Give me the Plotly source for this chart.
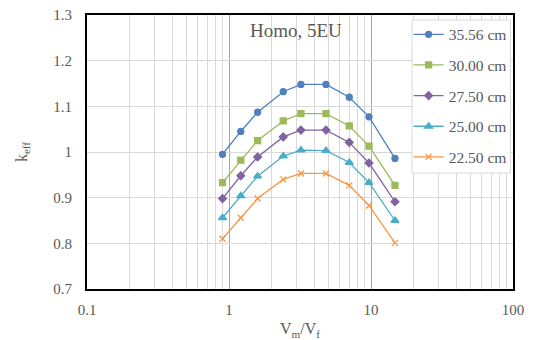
import plotly.graph_objects as go

# Moderator-to-fuel volume ratio (x) and k_eff for each core size
ratio = [0.90, 1.21, 1.59, 2.41, 3.21, 4.82, 7.03, 9.68, 14.75]
k_3556 = [0.995, 1.045, 1.087, 1.132, 1.148, 1.148, 1.120, 1.077, 0.986]
k_3000 = [0.933, 0.982, 1.025, 1.068, 1.084, 1.084, 1.057, 1.013, 0.927]
k_2750 = [0.898, 0.948, 0.989, 1.033, 1.048, 1.048, 1.021, 0.976, 0.891]
k_2500 = [0.856, 0.904, 0.947, 0.991, 1.004, 1.003, 0.977, 0.933, 0.850]
k_2250 = [0.810, 0.856, 0.898, 0.940, 0.953, 0.953, 0.927, 0.883, 0.801]

series = [
    ("35.56 cm", k_3556, "#4F81BD", "circle", 6),
    ("30.00 cm", k_3000, "#9BBB59", "square", 6),
    ("27.50 cm", k_2750, "#8064A2", "diamond", 6),
    ("25.00 cm", k_2500, "#4BACC6", "triangle-up", 7),
    ("22.50 cm", k_2250, "#F79646", "x-thin-open", 6),
]

serif = "Liberation Serif, Times New Roman, serif"

# minor log gridlines at 2..9 of each decade
minor_vals = [m * 10 ** e for e in (-1, 0, 1) for m in range(2, 10)]

fig = go.Figure()
for name, ys, color, sym, size in series:
    fig.add_trace(go.Scatter(
        x=ratio, y=ys, name=name, mode="lines+markers", legendgroup=name,
        line=dict(color=color, width=1.3),
        marker=dict(symbol=sym, size=size, color=color,
                    line=dict(color=color, width=1.3)),
    ))

# legend frame (drawn as a paper-space box so it hugs the entries)
fig.add_shape(type="rect", xref="paper", yref="paper",
              x0=0.763, x1=0.994, y0=0.423, y1=0.982,
              fillcolor="white", line=dict(color="#D9D9D9", width=1),
              layer="above")

fig.add_annotation(text="Homo, 5EU", x=0.49, y=0.945, xref="paper", yref="paper",
                   showarrow=False, xanchor="center", yanchor="middle",
                   font=dict(family=serif, size=19, color="#595959"))

fig.update_layout(
    width=539, height=340,
    margin=dict(l=87, r=26, t=15, b=51),
    paper_bgcolor="white", plot_bgcolor="white",
    font=dict(family=serif, size=15, color="#595959"),
    showlegend=True,
    legend=dict(x=0.755, y=0.99, xanchor="left", yanchor="top",
                bgcolor="rgba(0,0,0,0)", borderwidth=0,
                font=dict(family=serif, size=15.5, color="#595959"),
                tracegroupgap=7.5, itemwidth=30),
    xaxis=dict(type="log", range=[-1, 2], automargin=False,
               tickvals=[0.1, 1, 10, 100], ticktext=["0.1", "1", "10", "100"],
               showgrid=True, gridcolor="#A6A6A6", gridwidth=1,
               minor=dict(tickmode="array", tickvals=minor_vals, showgrid=True,
                          gridcolor="#D9D9D9", gridwidth=1, ticks=""),
               showline=True, mirror=True, linecolor="black", linewidth=2,
               ticks="", zeroline=False, ticklabelstandoff=6,
               title=dict(text="V<sub>m</sub>/V<sub>f</sub>", standoff=6,
                          font=dict(family=serif, size=16, color="#595959"))),
    yaxis=dict(range=[0.7, 1.3], automargin=False,
               tickvals=[0.7, 0.8, 0.9, 1.0, 1.1, 1.2, 1.3],
               ticktext=["0.7", "0.8", "0.9", "1", "1.1", "1.2", "1.3"],
               showgrid=True, gridcolor="#D9D9D9", gridwidth=1,
               showline=True, mirror=True, linecolor="black", linewidth=2,
               ticks="", zeroline=False, ticklabelstandoff=10,
               title=dict(text="k<sub>eff</sub>", standoff=22,
                          font=dict(family=serif, size=16, color="#595959"))),
)

fig.write_html("out.html")
